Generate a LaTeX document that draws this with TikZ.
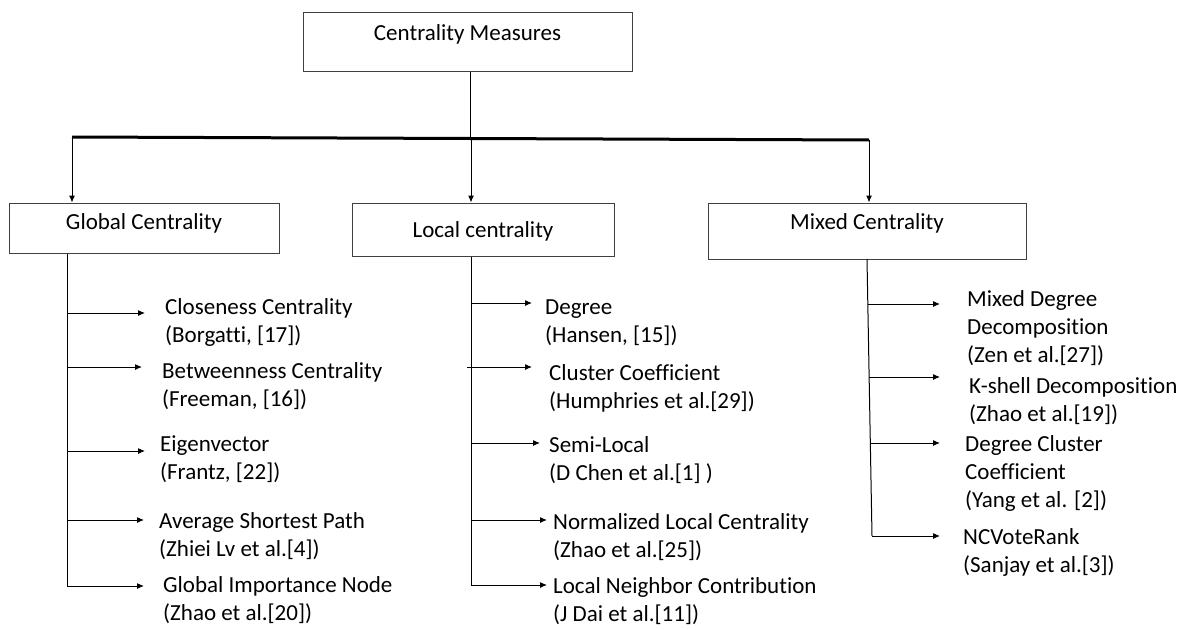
\documentclass[tikz,border=0pt]{standalone}
\usepackage{fontspec}
\setmainfont[Ligatures=NoCommon]{Carlito}
\usetikzlibrary{arrows.meta}
\tikzset{
  box/.style={draw=black!75, line width=1pt, inner sep=0pt, font=\fontsize{23}{28}\selectfont, align=center},
  arr/.style={line width=1pt, -{Latex[length=7pt,width=6pt]}},
  trunk/.style={line width=1pt},
  item/.style={anchor=north west, yshift=12.6pt, inner sep=0pt, align=left, font=\fontsize{23}{28}\selectfont}
}
\begin{document}
\begin{tikzpicture}[x=1pt,y=-1pt]
\useasboundingbox (0,0) rectangle (1183,629);
% header boxes
\node[box, minimum width=329pt, minimum height=59pt, text height=15pt, text depth=17pt] (top) at (467.5,41.5) {Centrality Measures};
\node[box, minimum width=270pt, minimum height=50pt, text height=16pt, text depth=13pt] (g) at (144,228) {Global Centrality};
\node[box, minimum width=262pt, minimum height=53pt, text height=20pt, text depth=4pt] (l) at (483,229.5) {Local centrality};
\node[box, minimum width=318pt, minimum height=56pt, text height=15pt, text depth=18pt] (m) at (867,231) {Mixed Centrality};
% bar
\coordinate (bl) at (72,137);
\coordinate (br) at (869,140);
\coordinate (bm) at (470,138.3);
\coordinate (bl2) at (471,138.3);
\draw[trunk] (top.south -| bm) -- (bm);
\draw[line width=3pt] (bl) -- (br);
\draw[arr] (bl) -- (g.north -| bl);
\draw[arr] (bl2) -- (l.north -| bl2);
\draw[arr] (br) -- (m.north -| br);
% global list
\coordinate (gt) at (67,586);
\draw[trunk] (g.south -| gt) -- (gt);
\node[item] (g1) at (165,307) {\strut Closeness Centrality\\(Borgatti, [17])};
\node[item] (g2) at (162,371) {\strut Betweenness Centrality\\(Freeman, [16])};
\node[item] (g3) at (160,444) {\strut Eigenvector\\(Frantz, [22])};
\node[item] (g4) at (159,521) {\strut Average Shortest Path\\(Zhiei Lv et al.[4])};
\node[item] (g5) at (163,585) {\strut Global Importance Node\\(Zhao et al.[20])};
\coordinate (ga1) at (145,313);
\coordinate (ga2) at (142,367);
\coordinate (ga3) at (145,451);
\coordinate (ga4) at (144,520);
\coordinate (ga5) at (144,586);
\foreach \i in {1,...,5} \draw[arr] (gt |- ga\i) -- (ga\i);
% local list
\coordinate (lt) at (471,585);
\draw[trunk] (l.south -| lt) -- (lt);
\node[item] (l1) at (545,307) {\strut Degree\\(Hansen, [15])};
\node[item] (l2) at (549,373) {\strut Cluster Coefficient\\(Humphries et al.[29])};
\node[item] (l3) at (549,445) {\strut Semi-Local\\(D Chen et al.[1] )};
\node[item] (l4) at (553,522) {\strut Normalized Local Centrality\\(Zhao et al.[25])};
\node[item] (l5) at (553,586) {\strut Local Neighbor Contribution\\(J Dai et al.[11])};
\coordinate (la1) at (532,303);
\coordinate (la2) at (532,367);
\coordinate (la3) at (540,443);
\coordinate (la4) at (547,520);
\coordinate (la5) at (547,585);
\coordinate (lx2) at (467,367);
\draw[arr] (lt |- la1) -- (la1);
\draw[arr] (lx2) -- (la2);
\draw[arr] (lt |- la3) -- (la3);
\draw[arr] (lt |- la4) -- (la4);
\draw[arr] (lt |- la5) -- (la5);
% mixed list
\coordinate (mtt) at (867,259);
\coordinate (mt) at (872,536);
\draw[trunk] (mtt) -- (mt);
\node[item] (m1) at (967,299) {\strut Mixed Degree\\Decomposition\\(Zen et al.[27])};
\node[item] (m2) at (969,386) {\strut K-shell Decomposition\\(Zhao et al.[19])};
\node[item] (m3) at (965,444) {\strut Degree Cluster\\Coefficient\\(Yang et al. [2])};
\node[item] (m4) at (963,537) {\strut NCVoteRank\\(Sanjay et al.[3])};
\coordinate (ma1) at (940,304);
\coordinate (ma2) at (940,377);
\coordinate (ma3) at (940,443);
\coordinate (ma4) at (940,536);
\coordinate (ms1) at (868,304);
\coordinate (ms2) at (869,377);
\coordinate (ms3) at (870,443);
\foreach \i in {1,2,3} \draw[arr] (ms\i) -- (ma\i);
\draw[arr] (mt) -- (ma4);
\end{tikzpicture}
\end{document}
